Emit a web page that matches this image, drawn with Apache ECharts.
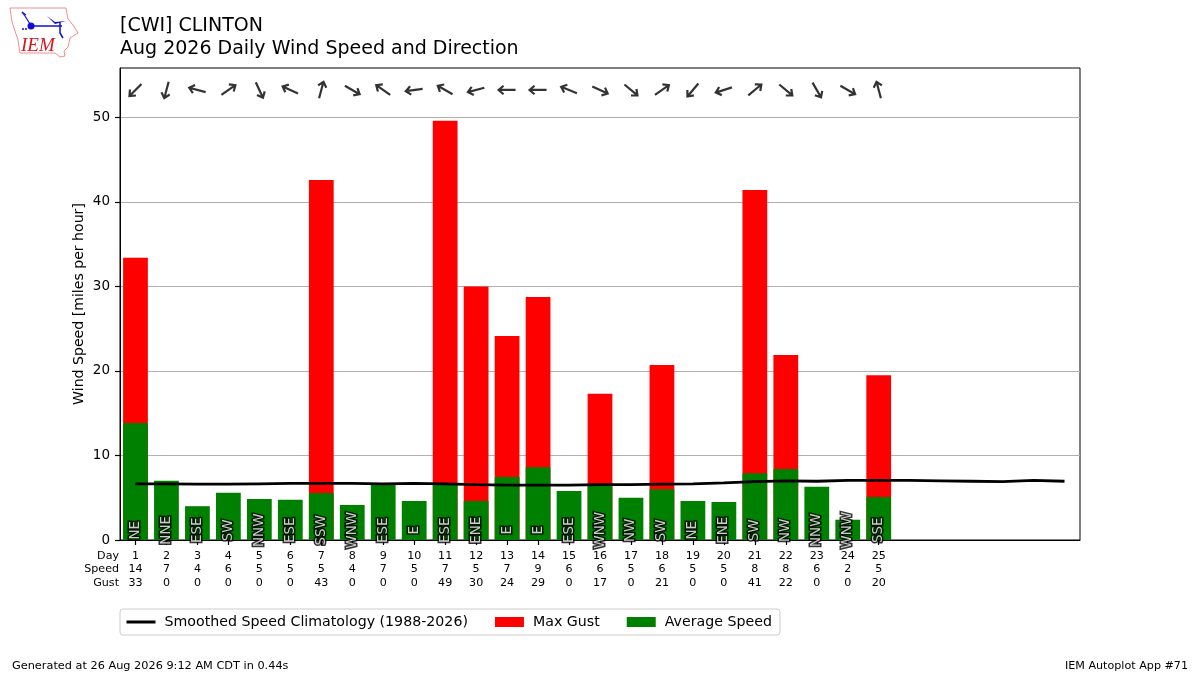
<!DOCTYPE html>
<html><head><meta charset="utf-8">
<script src="https://cdn.jsdelivr.net/npm/echarts@6/dist/echarts.min.js"></script>
<style>html,body{margin:0;background:#fff}#c{width:1200px;height:675px}</style></head>
<body><div id="c"></div>
<script>
const days = Array.from({length:31},(_,i)=>String(i+1));
const avgSpeed = [13.85,7.0,4.0,5.6,4.85,4.75,5.55,4.15,6.6,4.6,6.75,4.6,7.45,8.6,5.8,6.6,5.0,6.0,4.6,4.5,7.9,8.4,6.3,2.4,5.1];
const maxGust = [33.4,0,0,0,0,0,42.6,0,0,0,49.6,30,24.15,28.75,0,17.3,0,20.7,0,0,41.4,21.9,0,0,19.5];
const climatology = [6.65,6.65,6.6,6.6,6.65,6.7,6.7,6.7,6.65,6.7,6.65,6.55,6.5,6.5,6.5,6.55,6.55,6.6,6.65,6.75,6.9,7.0,6.95,7.05,7.05,7.05,7.0,6.95,6.9,7.05,6.95];
const dirNames = ['NE','NNE','ESE','SW','NNW','ESE','SSW','WNW','ESE','E','ESE','ENE','E','E','ESE','WNW','NW','SW','NE','ENE','SW','NW','NNW','WNW','SSE'];
const arrowHeading = [225,195,285,55,155,295,15,120,305,262,300,255,270,270,292,115,130,55,220,252,50,130,150,120,345];
const speedRow = [14,7,4,6,5,5,5,4,7,5,7,5,7,9,6,6,5,6,5,5,8,8,6,2,5];
const gustRow = [33,0,0,0,0,0,43,0,0,0,49,30,24,29,0,17,0,21,0,0,41,22,0,0,20];
const yTicks = [0,10,20,30,40,50];
const arrowLevel = 53.25, dirLabelLevel = 1.15;

const F = 'DejaVu Sans';
const dirLabelData = dirNames.map((d,i)=>({value:[i,dirLabelLevel],name:d}));
const chart = echarts.init(document.getElementById('c'),null,{renderer:'canvas'});
chart.setOption({
  animation:false,
  backgroundColor:'#fff',
  textStyle:{fontFamily:F},
  title:{left:120,top:14,padding:0,text:'[CWI] CLINTON\nAug 2026 Daily Wind Speed and Direction',
    textStyle:{fontFamily:F,fontSize:19,fontWeight:'normal',color:'#000',lineHeight:23.5}},
  grid:{left:120,right:120,top:68,bottom:135,show:true,borderColor:'#000',borderWidth:1,backgroundColor:'transparent'},
  legend:{left:120,top:609,padding:[6,8,6,5],itemGap:27,itemWidth:29,itemHeight:10,
    borderColor:'#ccc',borderWidth:1,borderRadius:3,
    data:[{name:'Smoothed Speed Climatology (1988-2026)',itemStyle:{color:'transparent',borderColor:'transparent',opacity:0},lineStyle:{width:3,color:'#000'}},{name:'Max Gust',icon:'rect'},{name:'Average Speed',icon:'rect'}],
    textStyle:{fontFamily:F,fontSize:14.2,color:'#000',padding:[0,0,0,4]}},
  xAxis:{type:'category',data:days,
    axisLine:{lineStyle:{color:'#000',width:1}},
    axisTick:{show:true,alignWithLabel:true,length:5,lineStyle:{color:'#000',width:1.2},interval:(i)=>i<dirNames.length},
    axisLabel:{interval:0,margin:9,fontFamily:F,fontSize:11.1,lineHeight:13.5,color:'#000',
      formatter:(v,i)=> i<dirNames.length ? v+'\n'+speedRow[i]+'\n'+gustRow[i] : ''},
    splitLine:{show:false}},
  yAxis:{type:'value',min:0,max:55.85,
    name:'Wind Speed [miles per hour]',nameLocation:'middle',nameGap:34,nameMoveOverlap:false,
    nameTextStyle:{fontFamily:F,fontSize:14.1,color:'#000'},
    axisLine:{show:true,lineStyle:{color:'#000'}},
    axisTick:{show:true,length:5,lineStyle:{color:'#000',width:1.2},customValues:yTicks},
    axisLabel:{fontFamily:F,fontSize:13.5,color:'#000',margin:10,customValues:yTicks},
    splitLine:{show:true,lineStyle:{color:'#b0b0b0',width:1}}},
  series:[
    {name:'Max Gust',type:'bar',data:maxGust,barWidth:'80%',barGap:'-100%',itemStyle:{color:'#ff0000'},z:2},
    {name:'Average Speed',type:'bar',data:avgSpeed,barWidth:'80%',barGap:'-100%',itemStyle:{color:'#008000'},z:3},
    {name:'Smoothed Speed Climatology (1988-2026)',type:'line',data:climatology,showSymbol:false,symbol:'none',
      lineStyle:{color:'#000',width:2.8},itemStyle:{color:'#000'},z:5},
    {name:'dirOutline',type:'scatter',symbolSize:1,itemStyle:{color:'transparent'},z:6,data:dirLabelData,
      label:{show:true,position:'inside',rotate:90,formatter:p=>p.name,fontFamily:F,fontSize:13.5,color:'#000',
        textBorderColor:'#000',textBorderWidth:3}},
    {name:'dir',type:'scatter',symbolSize:1,itemStyle:{color:'transparent'},z:7,data:dirLabelData,
      label:{show:true,position:'inside',rotate:90,formatter:p=>p.name,fontFamily:F,fontSize:13.5,color:'#fff'}},
    {name:'arrows',type:'scatter',z:6,
      symbol:'path://M8,24 L8,0 M2,7 L8,0 L14,7',symbolKeepAspect:true,symbolSize:17,
      itemStyle:{color:'transparent',borderColor:'#000',borderWidth:2.2},
      data:arrowHeading.map((h,i)=>({value:[i,arrowLevel],symbolRotate:-h}))}
  ],
  graphic:[
    {type:'text',x:119,y:549,style:{text:'Day\nSpeed\nGust',align:'right',fontFamily:F,fontSize:11.1,lineHeight:13.5,fill:'#000'}},
    {type:'text',x:12,y:661,style:{text:'Generated at 26 Aug 2026 9:12 AM CDT in 0.44s',fontFamily:F,fontSize:11.3,fill:'#000'}},
    {type:'text',x:1188,y:661,style:{text:'IEM Autoplot App #71',align:'right',fontFamily:F,fontSize:11.15,fill:'#000'}},
    {type:'polygon',shape:{points:[[10,8],[66,8],[68,19],[73,25],[78,33],[70,38],[68,47],[64,51],[65,56],[60,57],[55,53],[20,53],[18,40],[12,22]]},
      style:{fill:'#fff',stroke:'#ee9090',lineWidth:1}},
    {type:'polyline',shape:{points:[[31,26],[62,26]]},style:{stroke:'#1010d0',lineWidth:1.5,fill:'none'}},
    {type:'circle',shape:{cx:31,cy:26,r:3.5},style:{fill:'#1010d0'}},
    {type:'polyline',shape:{points:[[22,12],[25,16],[30,24]]},style:{stroke:'#1010d0',lineWidth:1.2,fill:'none'}},
    {type:'polyline',shape:{points:[[22,12],[26,15]]},style:{stroke:'#1010d0',lineWidth:1.2,fill:'none'}},
    {type:'polygon',shape:{points:[[47,16],[55,22],[66,21],[55,24]]},style:{fill:'#1010d0'}},
    {type:'polyline',shape:{points:[[60,22],[60,33],[63,38]]},style:{stroke:'#1010d0',lineWidth:1.5,fill:'none'}},
    {type:'circle',shape:{cx:23,cy:29,r:1},style:{fill:'#1010d0'}},
    {type:'circle',shape:{cx:26,cy:29,r:1},style:{fill:'#1010d0'}},
    {type:'text',x:21,y:36,style:{text:'IEM',fontFamily:'Liberation Serif',fontStyle:'italic',fontSize:19,fill:'#d8141c'}}
  ]
});
</script></body></html>
